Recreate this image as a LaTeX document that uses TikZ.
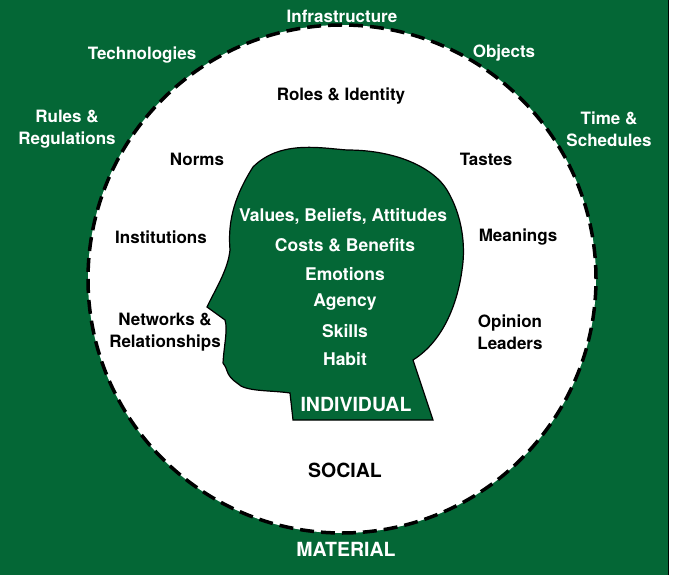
\documentclass[tikz,border=0pt]{standalone}
\usepackage{fontspec}
\setmainfont{TeX Gyre Heros}
\definecolor{dg}{RGB}{4,103,54}
\begin{document}
\begin{tikzpicture}[x=1pt,y=-1pt,
  lbl/.style={font=\bfseries\fontsize{17}{22}\selectfont,align=center,text=black},
  wl/.style={font=\bfseries\fontsize{17}{22}\selectfont,align=center,text=white},
  hl/.style={font=\bfseries\fontsize{17.5}{19}\selectfont,text=white},
  big/.style={font=\bfseries\fontsize{19.5}{20}\selectfont}]
\useasboundingbox (0,0) rectangle (688,575);
\fill[dg] (0,0) rectangle (668,575);
\draw[black,line width=0.8] (668,0) -- (668,575);
\node[circle,fill=white,draw=black,line width=3.5,dash pattern=on 14pt off 7pt,minimum size=508,inner sep=0] (c) at (342,279) {};
\draw[fill=dg,line width=1.2] (293,420) -- (290,393) .. controls (270,390) and (245,392) .. (237,383)
 .. controls (225,375) and (228,368) .. (223,363) .. controls (224,345) and (228,330) .. (225,320)
 -- (207,307) .. controls (215,290) and (228,270) .. (230,250)
 .. controls (228,225) and (232,200) .. (253,167) .. controls (280,140) and (320,148) .. (347,150)
 .. controls (400,150) and (435,170) .. (447,190) .. controls (462,215) and (466,245) .. (462,270)
 .. controls (458,300) and (445,340) .. (413,360) -- (433,420) -- cycle;
\node[hl] (v) at (343,217) {Values, Beliefs, Attitudes};
\node[hl] (cb) at (345,245) {Costs \& Benefits};
\node[hl] (e) at (345,274) {Emotions};
\node[hl] (a) at (345,302) {Agency};
\node[hl] (s) at (345,331) {Skills};
\node[hl] (h) at (345,359) {Habit};
\node[big,text=white] (ind) at (356,405) {INDIVIDUAL};
\node[big] (soc) at (345,470) {SOCIAL};
\node[big,text=white] (mat) at (346,549) {MATERIAL};
\node[lbl] (ri) at (341,96) {Roles \& Identity};
\node[lbl] (no) at (197,159) {Norms};
\node[lbl] (ta) at (486,159) {Tastes};
\node[lbl] (in) at (161,237) {Institutions};
\node[lbl] (me) at (518,237) {Meanings};
\node[lbl] (nr) at (165,332) {Networks \&\\Relationships};
\node[lbl] (ol) at (510,332) {Opinion\\Leaders};
\node[wl] (if) at (342,16) {Infrastructure};
\node[wl] (te) at (142,55) {Technologies};
\node[wl] (ob) at (504,53) {Objects};
\node[wl] (rr) at (67,129) {Rules \&\\Regulations};
\node[wl] (ts) at (609,129) {Time \&\\Schedules};
\end{tikzpicture}
\end{document}
